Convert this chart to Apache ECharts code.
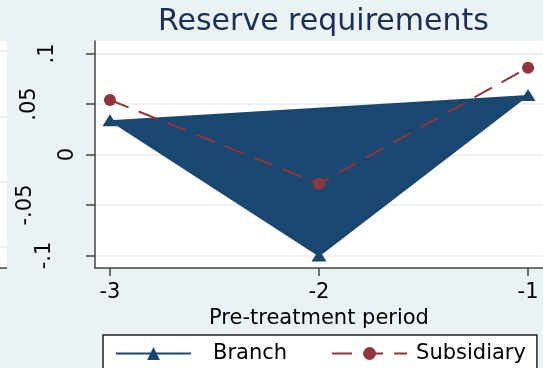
<!DOCTYPE html>
<html><head><meta charset="utf-8">
<script src="https://cdn.jsdelivr.net/npm/echarts@6/dist/echarts.min.js"></script>
<style>html,body{margin:0;padding:0;background:#EAF2F3}#c{width:543px;height:368px}</style>
</head><body><div id="c"></div>
<script>
// ---- data ----
const chartTitle = 'Reserve requirements';
const xAxisTitle = 'Pre-treatment period';
const seriesNames = ['Branch', 'Subsidiary'];
const periods = [-3, -2, -1];
const branch = [0.034, -0.100, 0.059];
const subsidiary = [0.054, -0.029, 0.086];
const xTicks = [-3, -2, -1];
const xTickLabels = ['-3', '-2', '-1'];
const yTicks = [-0.1, -0.05, 0, 0.05, 0.1];
const yTickLabels = ['-.1', '-.05', '0', '.05', '.1'];

// ---- styles ----
const FONT = 'DejaVu Sans';
const NAVY = '#1A476F';
const MAROON = '#90353B';
const AXIS = '#444';
const yLabelShift = [23, 42, 0, 38, 20]; // per-label offset (Stata rotated label quirk)

function idxOf(arr, v) {
  for (let i = 0; i < arr.length; i++) if (Math.abs(arr[i] - v) < 1e-9) return i;
  return -1;
}
const rich = {};
yTickLabels.forEach((l, i) => {
  rich['o' + i] = { fontFamily: FONT, fontSize: 21, color: '#000', padding: [0, 0, yLabelShift[i], 0] };
});

const chart = echarts.init(document.getElementById('c'), null, { renderer: 'canvas' });
chart.setOption({
  animation: false,
  backgroundColor: '#EAF2F3',
  textStyle: { fontFamily: FONT },
  title: {
    text: chartTitle, left: 158, top: 7, padding: 0,
    textStyle: { fontFamily: FONT, fontSize: 30, fontWeight: 'normal', color: '#1E2D52' }
  },
  graphic: [
    { type: 'rect', shape: { x: 0, y: 41, width: 7, height: 227 }, style: { fill: '#fff' }, silent: true },
    { type: 'line', shape: { x1: 0, y1: 51, x2: 7, y2: 51 }, style: { stroke: '#E4EDF0', lineWidth: 1.5 } },
    { type: 'line', shape: { x1: 0, y1: 117, x2: 7, y2: 117 }, style: { stroke: '#E4EDF0', lineWidth: 1.5 } },
    { type: 'line', shape: { x1: 0, y1: 182, x2: 7, y2: 182 }, style: { stroke: '#E4EDF0', lineWidth: 1.5 } },
    { type: 'line', shape: { x1: 0, y1: 247, x2: 7, y2: 247 }, style: { stroke: '#E4EDF0', lineWidth: 1.5 } },
    { type: 'line', shape: { x1: 0, y1: 268, x2: 7, y2: 268 }, style: { stroke: AXIS, lineWidth: 1.5 } }
  ],
  grid: { left: 95, top: 41, width: 449, height: 227, show: true, backgroundColor: '#fff', borderWidth: 0 },
  xAxis: {
    type: 'value', min: -3.0716, max: -0.9284,
    axisLine: { show: true, onZero: false, lineStyle: { color: AXIS, width: 1.5 } },
    axisTick: { show: true, length: 8, customValues: xTicks, lineStyle: { color: AXIS, width: 1.5 } },
    axisLabel: {
      customValues: xTicks, margin: 14, fontFamily: FONT, fontSize: 21, color: '#000',
      formatter: v => xTickLabels[idxOf(xTicks, v)]
    },
    splitLine: { show: false },
    name: xAxisTitle, nameLocation: 'middle', nameGap: 35,
    nameTextStyle: { fontFamily: FONT, fontSize: 21, color: '#000' }
  },
  yAxis: {
    type: 'value', min: -0.1124, max: 0.1124,
    axisLine: { show: true, onZero: false, lineStyle: { color: AXIS, width: 1.5 } },
    axisTick: { show: true, length: 9, customValues: yTicks, lineStyle: { color: AXIS, width: 1.5 } },
    axisLabel: {
      customValues: yTicks, rotate: 90, margin: 17, fontFamily: FONT, fontSize: 21, color: '#000',
      formatter: v => { const i = idxOf(yTicks, v); return '{o' + i + '|' + yTickLabels[i] + '}'; },
      rich: rich
    },
    splitLine: { show: true, lineStyle: { color: '#E4EDF0', width: 1.5 } }
  },
  legend: {
    left: 103, top: 335, orient: 'horizontal',
    padding: [8, 11, 8, 12], itemWidth: 75, itemHeight: 16, itemGap: 44,
    backgroundColor: '#fff', borderColor: '#222', borderWidth: 1.5, borderRadius: 0,
    textStyle: { fontFamily: FONT, fontSize: 21, color: '#000' },
    data: [
      { name: seriesNames[0], textStyle: { padding: [0, 0, 0, 17] } },
      { name: seriesNames[1], textStyle: { padding: [0, 0, 0, 4] } }
    ]
  },
  series: [
    {
      name: 'BranchArea', type: 'custom', z: 1,
      data: periods.map((p, i) => [p, branch[i]]),
      encode: { x: 0, y: 1 },
      renderItem: function (params, api) {
        if (params.dataIndex !== 0) return;
        const pts = periods.map((p, i) => api.coord([p, branch[i]]));
        return { type: 'polygon', shape: { points: pts }, style: { fill: NAVY } };
      }
    },
    {
      name: seriesNames[0], type: 'line', z: 3,
      data: periods.map((p, i) => [p, branch[i]]),
      symbol: 'triangle', symbolSize: [15, 12],
      itemStyle: { color: NAVY },
      lineStyle: { color: NAVY, width: 2 }
    },
    {
      name: seriesNames[1], type: 'line', z: 4,
      data: periods.map((p, i) => [p, subsidiary[i]]),
      symbol: 'circle', symbolSize: 12,
      itemStyle: { color: MAROON },
      lineStyle: { color: MAROON, width: 2, type: [20, 11] }
    }
  ]
});
</script></body></html>
